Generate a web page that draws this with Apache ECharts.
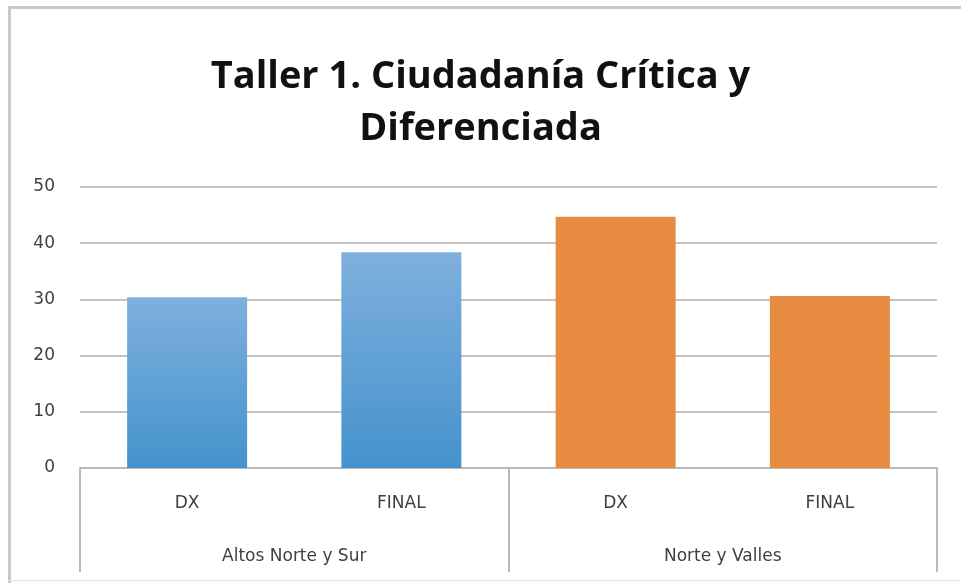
<!DOCTYPE html>
<html>
<head>
<meta charset="utf-8">
<script src="https://cdn.jsdelivr.net/npm/echarts@6/dist/echarts.min.js"></script>
<style>
  html, body { margin: 0; padding: 0; background: #fff; }
  #chart { width: 961px; height: 583px; }
</style>
</head>
<body>
<div id="chart"></div>
<script type="text/javascript">
    // datos del gráfico
    var titulo = 'Taller 1. Ciudadanía Crítica y\nDiferenciada';
    var categorias = ['DX', 'FINAL', 'DX', 'FINAL'];
    var grupos = ['Altos Norte y Sur', 'Norte y Valles'];
    var valores = [30.4, 38.4, 44.7, 30.6];
    var grupoDeBarra = [0, 0, 1, 1];

    var azul = new echarts.graphic.LinearGradient(0, 0, 0, 1, [
        { offset: 0, color: '#7eb0dd' },
        { offset: 1, color: '#4592cd' }
    ]);
    var naranja = '#e68b3f';
    var colores = [azul, naranja];

    var datos = valores.map(function (v, i) {
        return { value: v, itemStyle: { color: colores[grupoDeBarra[i]] } };
    });

    var fuenteEtiquetas = {
        fontFamily: 'DejaVu Sans',
        fontSize: 17,
        color: '#3f3f3f'
    };

    var myChart = echarts.init(document.getElementById('chart'));
    var option = {
        backgroundColor: '#ffffff',
        animation: false,
        title: {
            text: titulo,
            left: 'center',
            top: 46,
            textStyle: {
                fontFamily: 'Open Sans',
                fontWeight: 'bold',
                fontSize: 38,
                lineHeight: 52,
                color: '#111111'
            }
        },
        graphic: [
            { type: 'rect', shape: { x: 8, y: 6, width: 960, height: 3 }, style: { fill: '#cbc9c7' } },
            { type: 'rect', shape: { x: 8, y: 6, width: 3, height: 580 }, style: { fill: '#cbc9c7' } },
            { type: 'rect', shape: { x: 8, y: 580, width: 960, height: 1 }, style: { fill: '#e4e4e4' } }
        ],
        grid: {
            left: 80,
            right: 24,
            top: 187,
            bottom: 115
        },
        xAxis: [
            {
                type: 'category',
                data: categorias,
                axisTick: { show: false },
                axisLine: { show: true, lineStyle: { color: '#bdb8b5', width: 2 } },
                axisLabel: Object.assign({ margin: 27 }, fuenteEtiquetas)
            },
            {
                type: 'category',
                position: 'bottom',
                data: grupos,
                axisLine: { show: false },
                axisTick: {
                    show: true,
                    length: 104,
                    lineStyle: { color: '#bdb8b5', width: 2 }
                },
                axisLabel: Object.assign({ margin: 80 }, fuenteEtiquetas)
            }
        ],
        yAxis: {
            type: 'value',
            min: 0,
            max: 50,
            interval: 10,
            axisLine: { show: false },
            axisTick: { show: false },
            splitLine: { lineStyle: { color: '#c9c2be', width: 2 } },
            axisLabel: Object.assign({ margin: 25 }, fuenteEtiquetas)
        },
        series: [
            {
                type: 'bar',
                xAxisIndex: 0,
                barWidth: '56%',
                data: datos
            }
        ]
    };
    myChart.setOption(option);
</script>
</body>
</html>
